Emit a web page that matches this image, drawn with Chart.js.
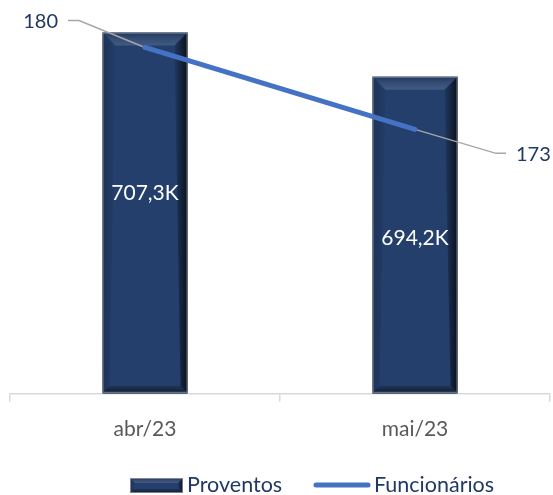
<!DOCTYPE html>
<html>
<head>
<meta charset="utf-8">
<script src="https://cdn.jsdelivr.net/npm/chart.js@4"></script>
<style>
  html, body { margin: 0; padding: 0; background: #fff; }
  #wrap { width: 553px; height: 495px; position: relative; }
</style>
</head>
<body>
<div id="wrap"><canvas id="chart"></canvas></div>
<script>
const months = ['abr/23', 'mai/23']
const proventos = [707.3, 694.2]        // em milhares
const funcionarios = [180, 173]

const FONT = 'Lato, "Open Sans", sans-serif'
const NAVY = '#243F6C'
const LINE_BLUE = '#4472C4'

const fmtK = v => v.toFixed(1).replace('.', ',') + 'K'

// bevelled rectangle, like the Excel bar style
function bevel(ctx, x0, y0, x1, y1, b, bb) {
  const w = x1 - x0
  ctx.save()
  ctx.fillStyle = NAVY
  ctx.fillRect(x0, y0, w, y1 - y0)
  // top bevel
  let g = ctx.createLinearGradient(0, y0, 0, y0 + b)
  g.addColorStop(0, 'rgba(0,0,0,0.15)')
  g.addColorStop(0.7, 'rgba(255,255,255,0.10)')
  g.addColorStop(1, 'rgba(255,255,255,0.14)')
  ctx.fillStyle = g
  ctx.beginPath()
  ctx.moveTo(x0, y0); ctx.lineTo(x1, y0); ctx.lineTo(x1 - b, y0 + b); ctx.lineTo(x0 + b, y0 + b)
  ctx.closePath(); ctx.fill()
  // right bevel
  g = ctx.createLinearGradient(x1 - b, 0, x1, 0)
  g.addColorStop(0, 'rgba(0,0,0,0.1)')
  g.addColorStop(1, 'rgba(0,0,0,0.75)')
  ctx.fillStyle = g
  ctx.beginPath()
  ctx.moveTo(x1, y0); ctx.lineTo(x1, y1); ctx.lineTo(x1 - bb, y1 - bb); ctx.lineTo(x1 - b, y0 + b)
  ctx.closePath(); ctx.fill()
  // left bevel
  g = ctx.createLinearGradient(x0, 0, x0 + b, 0)
  g.addColorStop(0, 'rgba(0,0,0,0.2)')
  g.addColorStop(1, 'rgba(0,0,0,0.03)')
  ctx.fillStyle = g
  ctx.beginPath()
  ctx.moveTo(x0, y0); ctx.lineTo(x0 + b, y0 + b); ctx.lineTo(x0 + bb, y1 - bb); ctx.lineTo(x0, y1)
  ctx.closePath(); ctx.fill()
  // bottom bevel
  g = ctx.createLinearGradient(0, y1 - bb, 0, y1)
  g.addColorStop(0, 'rgba(0,0,0,0.15)')
  g.addColorStop(1, 'rgba(0,0,0,0.55)')
  ctx.fillStyle = g
  ctx.beginPath()
  ctx.moveTo(x0, y1); ctx.lineTo(x0 + bb, y1 - bb); ctx.lineTo(x1 - bb, y1 - bb); ctx.lineTo(x1, y1)
  ctx.closePath(); ctx.fill()
  ctx.strokeStyle = 'rgba(170,170,170,0.7)'
  ctx.lineWidth = 1
  ctx.strokeRect(x0 + 0.5, y0 + 0.5, w - 1, y1 - y0 - 1)
  ctx.restore()
}

const excelLook = {
  id: 'excelLook',
  afterDatasetDraw(chart, args) {
    const ctx = chart.ctx
    if (args.index === 0) {
      const bottom = chart.chartArea.bottom
      // bars
      args.meta.data.forEach((bar, i) => {
        const x0 = bar.x - bar.width / 2, x1 = bar.x + bar.width / 2
        const base = Math.min(bar.base, bottom) - 1
        bevel(ctx, x0, bar.y, x1, base, 13, 7)
        ctx.save()
        ctx.fillStyle = '#fff'
        ctx.font = '21px ' + FONT
        ctx.textAlign = 'center'
        ctx.textBaseline = 'middle'
        const off = [-19, 4][i]
        ctx.fillText(fmtK(proventos[i]), bar.x, (bar.y + base) / 2 + off)
        ctx.restore()
      })
      // leader lines + labels for the line series
      const pts = chart.getDatasetMeta(1).data
      const leaders = [[-66, -27, -77], [81, 24, 91]]
      ctx.save()
      ctx.strokeStyle = '#A6A6A6'
      ctx.lineWidth = 1.5
      ctx.font = '20px ' + FONT
      ctx.fillStyle = '#1F3864'
      ctx.textBaseline = 'middle'
      pts.forEach((p, i) => {
        const [dx, dy, ex] = leaders[i]
        ctx.beginPath()
        ctx.moveTo(p.x, p.y)
        ctx.lineTo(p.x + dx, p.y + dy)
        ctx.lineTo(p.x + ex, p.y + dy)
        ctx.stroke()
        ctx.textAlign = i === 0 ? 'right' : 'left'
        ctx.fillText(String(funcionarios[i]), p.x + ex + (i === 0 ? -10 : 10), p.y + dy + 1)
      })
      ctx.restore()
    }
  },
  afterDraw(chart) {
    // legend
    const ctx = chart.ctx
    const y = 485
    ctx.save()
    bevel(ctx, 130, y - 7, 183, y + 8, 5, 4)
    ctx.strokeStyle = LINE_BLUE
    ctx.lineWidth = 5
    ctx.lineCap = 'round'
    ctx.beginPath(); ctx.moveTo(316, y); ctx.lineTo(368, y); ctx.stroke()
    ctx.font = '21.5px ' + FONT
    ctx.fillStyle = '#1F3864'
    ctx.textBaseline = 'middle'
    ctx.textAlign = 'left'
    ctx.fillText('Proventos', 187, y)
    ctx.fillText('Funcionários', 374, y)
    ctx.restore()
  }
}

new Chart(document.getElementById('chart'), {
  data: {
    labels: months,
    datasets: [
      {
        type: 'bar',
        label: 'Proventos',
        data: proventos,
        backgroundColor: NAVY,
        yAxisID: 'y',
        order: 1,
        barPercentage: 0.315,
        categoryPercentage: 1
      },
      {
        type: 'line',
        label: 'Funcionários',
        data: funcionarios,
        borderColor: LINE_BLUE,
        borderWidth: 5,
        borderCapStyle: 'round',
        pointRadius: 0,
        yAxisID: 'y2',
        order: 0
      }
    ]
  },
  options: {
    responsive: true,
    maintainAspectRatio: false,
    animation: false,
    layout: { padding: { left: 10, right: 3, top: 10, bottom: 38 } },
    plugins: {
      legend: { display: false },
      tooltip: { enabled: false }
    },
    scales: {
      x: {
        offset: true,
        grid: {
          offset: true,
          drawOnChartArea: false,
          drawTicks: true,
          tickLength: 8,
          color: '#D9D9D9',
          lineWidth: 1.5
        },
        border: { color: '#D9D9D9', width: 1.5 },
        ticks: { color: '#595959', font: { family: FONT, size: 21 }, padding: 15 }
      },
      y: { display: false, min: 600, max: 714 },
      y2: { display: false, min: 150.4, max: 183.2 }
    }
  },
  plugins: [excelLook]
})
</script>
</body>
</html>
